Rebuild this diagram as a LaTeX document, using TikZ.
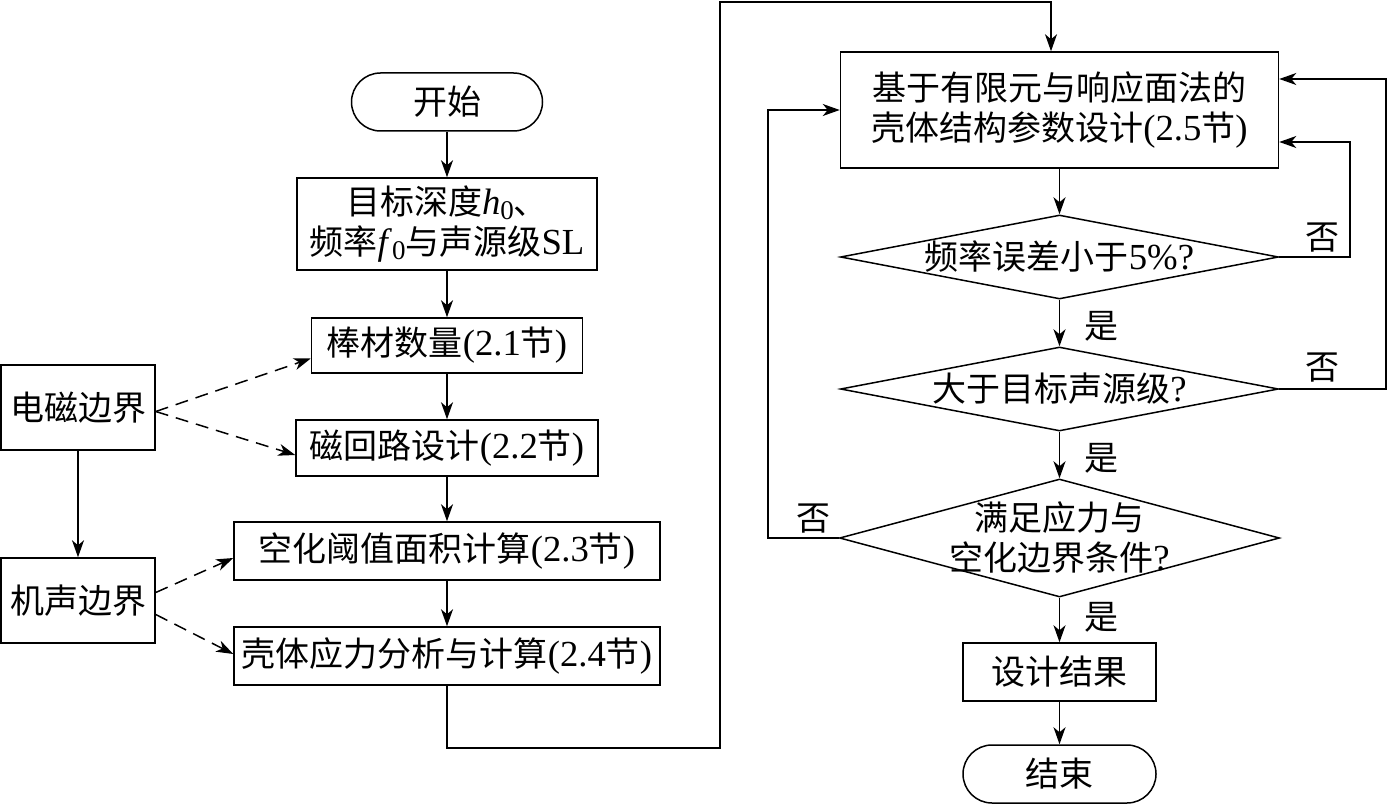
\documentclass[tikz,border=0pt]{standalone}
\usepackage{fontspec}
\setmainfont{Liberation Serif}[Scale=1.08]
\newfontfamily\cjk{Noto Sans CJK SC}
\usetikzlibrary{shapes.geometric,arrows.meta,calc}
\newcommand{\sub}[1]{\raisebox{-0.15em}{\fontsize{25}{25}\selectfont #1}}
\begin{document}
\begin{tikzpicture}[x=1pt,y=-1pt,
  every node/.style={font=\fontsize{34}{40}\selectfont},
  box/.style={draw, line width=1.5pt, inner sep=0pt, align=center},
  term/.style={box, rounded corners=29pt},
  dia/.style={draw, line width=1.5pt, diamond, inner sep=0pt},
  lbl/.style={inner sep=0pt, align=center},
  arr/.style={line width=1.5pt, -{Stealth[length=17pt,width=12pt,inset=5pt]}},
  dsh/.style={arr, dash pattern=on 13pt off 8pt},
  ln/.style={line width=1.5pt}]
\useasboundingbox (0,0) rectangle (1389,805);

% left column
\node[term, minimum width=191pt, minimum height=58pt] (start) at (447,102) {\cjk 开始};
\node[box, minimum width=300pt, minimum height=92pt] (goal) at (447,224)
  {{\cjk 目标深度}\textit{h}\sub{0}{\cjk 、}\\{\cjk 频率}\textit{f}\sub{0}{\cjk 与声源级}SL};
\node[box, minimum width=271pt, minimum height=55pt] (bar) at (447,345.5) {{\cjk 棒材数量}(2.1{\cjk 节})};
\node[box, minimum width=302pt, minimum height=56pt] (mag) at (447,448) {{\cjk 磁回路设计}(2.2{\cjk 节})};
\node[box, minimum width=426pt, minimum height=58pt] (cav) at (447,551) {{\cjk 空化阈值面积计算}(2.3{\cjk 节})};
\node[box, minimum width=426pt, minimum height=58pt] (shell) at (447,656) {{\cjk 壳体应力分析与计算}(2.4{\cjk 节})};
\node[box, minimum width=154pt, minimum height=85pt] (em) at (78,407.5) {\cjk 电磁边界};
\node[box, minimum width=154pt, minimum height=85pt] (ac) at (78,600.5) {\cjk 机声边界};

% right column
\node[box, minimum width=438pt, minimum height=116pt] (b25) at (1059.5,110)
  {{\cjk 基于有限元与响应面法的}\\{\cjk 壳体结构参数设计}(2.5{\cjk 节})};
\node[dia, minimum width=438pt, minimum height=84pt] (d1) at (1059.5,257) {};
\node[lbl] (d1t) at (1059.5,257) {{\cjk 频率误差小于}5\%?};
\node[dia, minimum width=438pt, minimum height=84pt] (d2) at (1059.5,389) {};
\node[lbl] (d2t) at (1059.5,389) {{\cjk 大于目标声源级}?};
\node[dia, minimum width=440pt, minimum height=118pt] (d3) at (1059.5,538) {};
\node[lbl] (d3t) at (1059.5,538) {{\cjk 满足应力与}\\{\cjk 空化边界条件}?};
\node[box, minimum width=193pt, minimum height=58pt] (res) at (1059.5,672) {\cjk 设计结果};
\node[term, minimum width=193pt, minimum height=58pt] (fin) at (1059.5,774) {\cjk 结束};

% labels
\node[lbl] (y1) at (1101,326) {\cjk 是};
\node[lbl] (y2) at (1101,458) {\cjk 是};
\node[lbl] (y3) at (1101,617) {\cjk 是};
\node[lbl] (n1) at (1322,238) {\cjk 否};
\node[lbl] (n2) at (1322,368) {\cjk 否};
\node[lbl] (n3) at (813,519) {\cjk 否};

% main flow left
\draw[arr] (start) -- (goal);
\draw[arr] (goal) -- (bar);
\draw[arr] (bar) -- (mag);
\draw[arr] (mag) -- (cav);
\draw[arr] (cav) -- (shell);
\draw[arr] (em) -- (ac);

% dashed
\draw[dsh] ($(em.east)+(0,4)$) -- ($(bar.west)+(0,13)$);
\draw[dsh] ($(em.east)+(0,4)$) -- ($(mag.west)+(0,7)$);
\draw[dsh] ($(ac.east)+(0,-8)$) -- ($(cav.west)+(0,7)$);
\draw[dsh] ($(ac.east)+(0,14)$) -- ($(shell.west)+(0,-2)$);

% connection to right column
\coordinate (c1) at (447,748);
\coordinate (c2) at (720,748);
\coordinate (c3) at (720,2);
\coordinate (c4) at (1051,2);
\draw[arr] (shell.south) -- (c1) -- (c2) -- (c3) -- (c4) -- (c4 |- b25.north);

% right flow
\draw[arr] (b25) -- (d1);
\draw[arr] (d1) -- (d2);
\draw[arr] (d2) -- (d3);
\draw[arr] (d3) -- (res);
\draw[arr] (res) -- (fin);

% loops
\coordinate (r1) at (1350,142);
\coordinate (r2) at (1386,79);
\coordinate (l1) at (768,110);
\draw[arr] (d1.east) -| (r1) -- (r1 -| b25.east);
\draw[arr] (d2.east) -| (r2) -- (r2 -| b25.east);
\draw[arr] (d3.west) -| (l1) -- (l1 -| b25.west);
\end{tikzpicture}
\end{document}
